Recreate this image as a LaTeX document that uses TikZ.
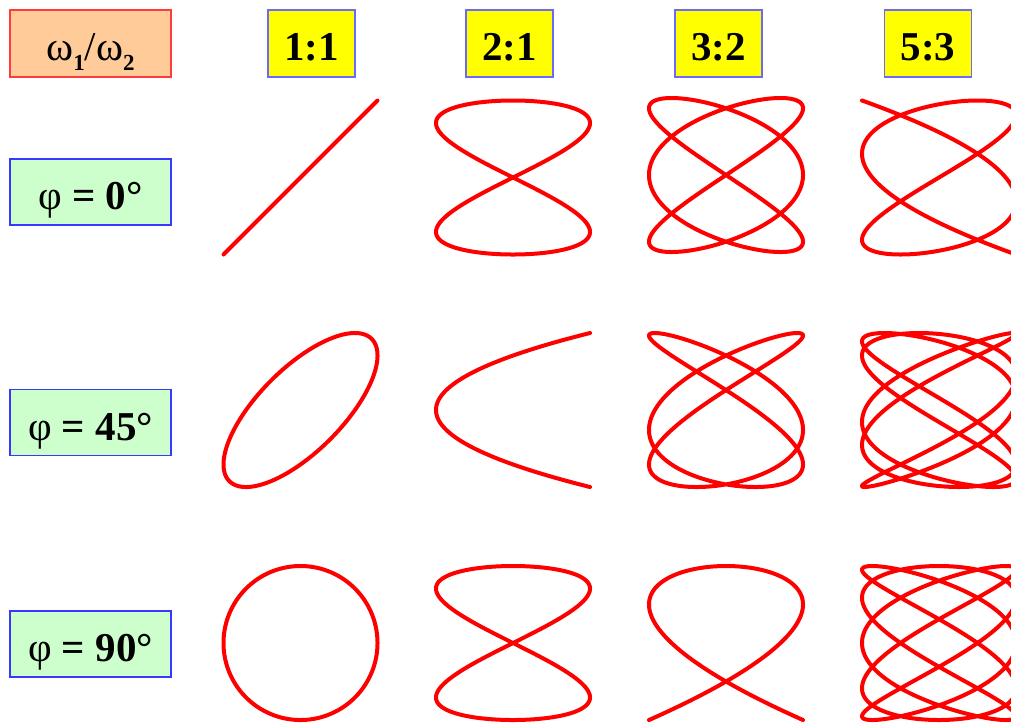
\documentclass[tikz,border=0pt]{standalone}
\usepackage{fontspec}
\setmainfont{Liberation Serif}
\definecolor{peach}{HTML}{FFCC99}
\definecolor{mint}{HTML}{CCFFCC}
\definecolor{boxred}{HTML}{FF3B3B}
\definecolor{boxblue}{HTML}{3838FF}
\definecolor{ylw}{HTML}{FFFF00}
\definecolor{lred}{HTML}{FF0000}
\newcommand\lissa[5]{% cx, cy, a, b, phi
  \draw[curve] plot[domain=0:360, samples=721, variable=\t]
    ({#1+77*sin(#3*\t)}, {#2-77*sin(#4*\t+#5)});}
\begin{document}
\begin{tikzpicture}[x=1pt,y=-1pt,
  curve/.style={draw=lred,line width=4pt,line cap=round,line join=round},
  basebox/.style={line width=1.3pt,inner sep=0pt,text height=33pt,text depth=0pt,
    font=\fontsize{41}{41}\selectfont},
  ratiobox/.style={basebox,draw=boxblue!75,fill=ylw,minimum width=87pt,minimum height=67pt,font=\fontsize{41}{41}\selectfont\bfseries},
  phasebox/.style={basebox,draw=boxblue,fill=mint,minimum width=161pt,minimum height=66pt,text height=35pt},
  headbox/.style={basebox,draw=boxred,fill=peach,minimum width=161pt,minimum height=67pt}]
\useasboundingbox (0,0) rectangle (1011,724);
\clip (0,0) rectangle (1011,724);
\fill[white] (0,0) rectangle (1011,724);

% headers
\node[headbox] (head) at (90.5,43.5) {ω\raisebox{-10pt}{\fontsize{23}{23}\selectfont\bfseries 1}/ω\raisebox{-10pt}{\fontsize{23}{23}\selectfont\bfseries 2}};
\node[ratiobox] (r11) at (311.5,43.5) {1:1};
\node[ratiobox] (r21) at (509.5,43.5) {2:1};
\node[ratiobox] (r32) at (718.5,43.5) {3:2};
\node[ratiobox] (r53) at (928,43.5) {5:3};
\node[phasebox] (p0) at (90.5,192) {φ \textbf{= 0°}};
\node[phasebox] (p45) at (90.5,422.5) {φ \textbf{= 45°}};
\node[phasebox] (p90) at (90.5,644) {φ \textbf{= 90°}};

% row phi = 0
\lissa{300.5}{177.5}{1}{1}{0}
\lissa{513}{177.5}{2}{1}{0}
\lissa{726}{175}{3}{2}{0}
\lissa{939}{177.5}{5}{3}{0}
% row phi = 45
\lissa{300.5}{410}{1}{1}{45}
\lissa{513}{410}{2}{1}{45}
\lissa{726}{410}{3}{2}{45}
\lissa{939}{410}{5}{3}{45}
% row phi = 90
\lissa{300.5}{643}{1}{1}{90}
\lissa{513}{643}{2}{1}{90}
\lissa{726}{643}{3}{2}{90}
\lissa{939}{643}{5}{3}{90}
\end{tikzpicture}
\end{document}
